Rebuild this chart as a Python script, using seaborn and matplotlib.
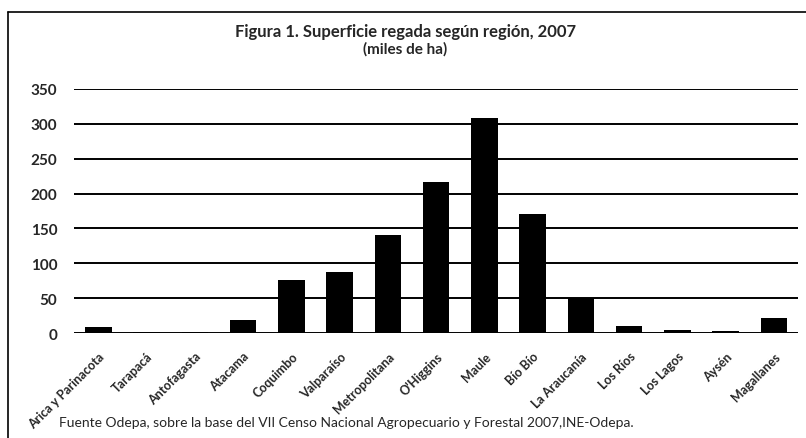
import numpy as np
import pandas as pd
import matplotlib
matplotlib.use("Agg")
import matplotlib.pyplot as plt
import seaborn as sns
from matplotlib.lines import Line2D

# data (miles de ha)
regiones = ["Arica y Parinacota", "Tarapacá", "Antofagasta", "Atacama", "Coquimbo",
            "Valparaíso", "Metropolitana", "O'Higgins", "Maule", "Bío Bío",
            "La Araucanía", "Los Ríos", "Los Lagos", "Aysén", "Magallanes"]
superficie = [8, 1, 2, 19, 76, 87, 140, 216, 309, 171, 51, 10, 4, 3, 22]
yticks = [0, 50, 100, 150, 200, 250, 300, 350]

df = pd.DataFrame({"region": regiones, "ha": superficie})

sns.set_style("white")
plt.rcParams["font.family"] = ["Lato", "DejaVu Sans"]

fig = plt.figure(figsize=(8.06, 4.39), dpi=100)
ax = fig.add_axes([0.092, 0.239, 0.898, 0.556])

sns.barplot(data=df, x="region", y="ha", color="black", width=0.55,
            saturation=1, linewidth=0, ax=ax, zorder=3)

ax.set_ylim(0, 350)
ax.set_xlim(-0.5, len(regiones) - 0.5)
ax.set_yticks(yticks)
ax.set_yticklabels([str(t) for t in yticks], fontsize=11, fontweight="bold")
ax.yaxis.grid(True, color="black", linewidth=1.4, zorder=0)
ax.set_axisbelow(True)
ax.tick_params(axis="y", length=0, pad=12)
ax.tick_params(axis="x", length=0, pad=12)
ax.set_xticks(range(len(regiones)))
ax.set_xticklabels(regiones, rotation=45, ha="right", rotation_mode="anchor",
                   fontsize=9, fontweight="bold")
ax.set_xlabel("")
ax.set_ylabel("")
sns.despine(ax=ax, left=True, bottom=True, top=True, right=True)

# title
fig.text(0.503, 0.928, "Figura 1. Superficie regada según región, 2007",
         ha="center", va="center", fontsize=12, fontweight="bold")
fig.text(0.503, 0.888, "(miles de ha)", ha="center", va="center",
         fontsize=11, fontweight="bold")

# source note
fig.text(0.073, 0.037,
         "Fuente Odepa, sobre la base del VII Censo Nacional Agropecuario y Forestal 2007,INE-Odepa.",
         ha="left", va="center", fontsize=10)

# frame around the figure
fig.add_artist(Line2D([8 / 806, 1.0], [1 - 13 / 439, 1 - 13 / 439],
                      color="black", linewidth=1.2, transform=fig.transFigure))
fig.add_artist(Line2D([8 / 806, 8 / 806], [0.0, 1 - 13 / 439],
                      color="black", linewidth=1.2, transform=fig.transFigure))

fig.savefig("out.png", dpi=100)
